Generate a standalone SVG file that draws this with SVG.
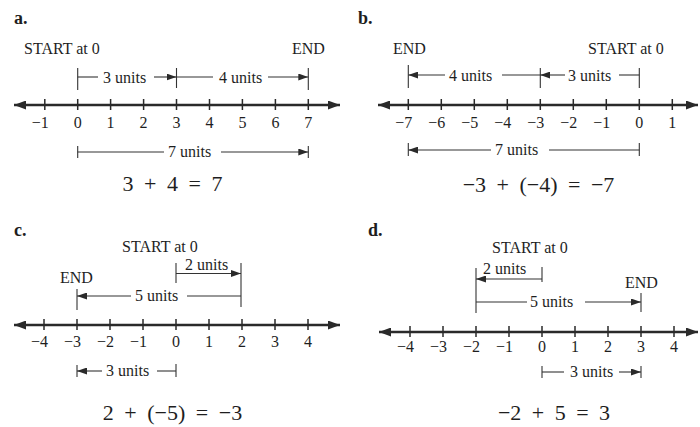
<svg xmlns="http://www.w3.org/2000/svg" width="700" height="427" viewBox="0 0 700 427">
<defs>
<marker id="ua" markerUnits="userSpaceOnUse" markerWidth="10" markerHeight="7" refX="10" refY="3.5" orient="auto"><path d="M0,0 L10,3.5 L0,7 z" fill="#2a2a2a"/></marker>
<marker id="na" markerUnits="userSpaceOnUse" markerWidth="12" markerHeight="9" refX="12" refY="4.5" orient="auto-start-reverse"><path d="M0,0 L12,4.5 L0,9 z" fill="#2a2a2a"/></marker>
</defs>
<style>
text{font-family:"Liberation Serif","Times New Roman",serif;fill:#1e1e1e;font-size:16px}
.lbl{font-weight:bold;font-size:18px}
.eq{font-size:22px;word-spacing:5px;text-anchor:middle}
.num{text-anchor:end}
.nl{stroke:#2a2a2a;stroke-width:2.5;fill:none}
.tk{stroke:#2a2a2a;stroke-width:1.5}
.u{stroke:#333;stroke-width:1.1;fill:none}
.ar{marker-end:url(#ua)}
</style>
<rect width="700" height="427" fill="#fff"/>

<g id="panel-a">
<text class="lbl" x="14" y="24">a.</text>
<text x="24" y="54">START at 0</text>
<text x="292" y="54">END</text>
<line class="nl" x1="14" y1="105" x2="340" y2="105" marker-start="url(#na)" marker-end="url(#na)"/>
<g class="tk">
<line x1="44.8" y1="99" x2="44.8" y2="110"/><line x1="77.7" y1="99" x2="77.7" y2="110"/><line x1="110.6" y1="99" x2="110.6" y2="110"/><line x1="143.6" y1="99" x2="143.6" y2="110"/><line x1="176.5" y1="99" x2="176.5" y2="110"/><line x1="209.5" y1="99" x2="209.5" y2="110"/><line x1="242.4" y1="99" x2="242.4" y2="110"/><line x1="275.4" y1="99" x2="275.4" y2="110"/><line x1="308.3" y1="99" x2="308.3" y2="110"/>
</g>
<g class="num">
<text x="48.8" y="128">−1</text><text x="81.7" y="128">0</text><text x="114.6" y="128">1</text><text x="147.6" y="128">2</text><text x="180.5" y="128">3</text><text x="213.5" y="128">4</text><text x="246.4" y="128">5</text><text x="279.4" y="128">6</text><text x="312.3" y="128">7</text>
</g>
<g id="a-connectors">
<line class="u" x1="77.7" y1="68" x2="77.7" y2="90"/>
<line class="u" x1="176.5" y1="68" x2="176.5" y2="88"/>
<line class="u" x1="308.3" y1="68" x2="308.3" y2="90"/>
<line class="u" x1="77.7" y1="77" x2="98" y2="77"/>
<line class="u ar" x1="154" y1="77" x2="176.5" y2="77"/>
<line class="u" x1="176.5" y1="77" x2="213" y2="77"/>
<line class="u ar" x1="268" y1="77" x2="308.3" y2="77"/>
<line class="u" x1="77.7" y1="146" x2="77.7" y2="158"/>
<line class="u" x1="308.3" y1="146" x2="308.3" y2="158"/>
<line class="u" x1="77.7" y1="152" x2="164" y2="152"/>
<line class="u ar" x1="221" y1="152" x2="308.3" y2="152"/>
</g>
<text x="103" y="83">3 units</text>
<text x="219" y="83">4 units</text>
<text x="168" y="157">7 units</text>
<text class="eq" x="172.5" y="191">3 + 4 = 7</text>
</g>

<g id="panel-b">
<text class="lbl" x="358" y="24">b.</text>
<text x="393" y="54">END</text>
<text x="588" y="54">START at 0</text>
<line class="nl" x1="378" y1="105" x2="698" y2="105" marker-start="url(#na)" marker-end="url(#na)"/>
<g class="tk">
<line x1="408.3" y1="99" x2="408.3" y2="110"/><line x1="441.3" y1="99" x2="441.3" y2="110"/><line x1="474.3" y1="99" x2="474.3" y2="110"/><line x1="507.3" y1="99" x2="507.3" y2="110"/><line x1="540.3" y1="99" x2="540.3" y2="110"/><line x1="573.3" y1="99" x2="573.3" y2="110"/><line x1="606.3" y1="99" x2="606.3" y2="110"/><line x1="639.3" y1="99" x2="639.3" y2="110"/><line x1="672.3" y1="99" x2="672.3" y2="110"/>
</g>
<g class="num">
<text x="412.3" y="127.5">−7</text><text x="445.3" y="127.5">−6</text><text x="478.3" y="127.5">−5</text><text x="511.3" y="127.5">−4</text><text x="544.3" y="127.5">−3</text><text x="577.3" y="127.5">−2</text><text x="610.3" y="127.5">−1</text><text x="643.3" y="127.5">0</text><text x="676.3" y="127.5">1</text>
</g>
<g id="b-connectors">
<line class="u" x1="408.3" y1="65" x2="408.3" y2="88"/>
<line class="u" x1="540.3" y1="68" x2="540.3" y2="88"/>
<line class="u" x1="639.3" y1="68" x2="639.3" y2="88"/>
<line class="u ar" x1="445" y1="75" x2="408.3" y2="75"/>
<line class="u" x1="502" y1="75" x2="540.3" y2="75"/>
<line class="u ar" x1="565" y1="75" x2="540.3" y2="75"/>
<line class="u" x1="619" y1="75" x2="639.3" y2="75"/>
<line class="u" x1="408.3" y1="143" x2="408.3" y2="156"/>
<line class="u" x1="639.3" y1="143" x2="639.3" y2="156"/>
<line class="u ar" x1="491" y1="150" x2="408.3" y2="150"/>
<line class="u" x1="549" y1="150" x2="639.3" y2="150"/>
</g>
<text x="449" y="81">4 units</text>
<text x="568" y="81">3 units</text>
<text x="495" y="155">7 units</text>
<text class="eq" x="538.5" y="192">−3 + (−4) = −7</text>
</g>

<g id="panel-c">
<text class="lbl" x="14" y="236">c.</text>
<text x="122" y="252">START at 0</text>
<text x="60" y="283">END</text>
<line class="nl" x1="14" y1="325" x2="340" y2="325" marker-start="url(#na)" marker-end="url(#na)"/>
<g class="tk">
<line x1="44" y1="319" x2="44" y2="330"/><line x1="77" y1="319" x2="77" y2="330"/><line x1="110" y1="319" x2="110" y2="330"/><line x1="143" y1="319" x2="143" y2="330"/><line x1="176" y1="319" x2="176" y2="330"/><line x1="209" y1="319" x2="209" y2="330"/><line x1="242" y1="319" x2="242" y2="330"/><line x1="275" y1="319" x2="275" y2="330"/><line x1="308" y1="319" x2="308" y2="330"/>
</g>
<g class="num">
<text x="48" y="347">−4</text><text x="81" y="347">−3</text><text x="114" y="347">−2</text><text x="147" y="347">−1</text><text x="180" y="347">0</text><text x="213" y="347">1</text><text x="246" y="347">2</text><text x="279" y="347">3</text><text x="312" y="347">4</text>
</g>
<g id="c-connectors">
<line class="u" x1="176" y1="263" x2="176" y2="283"/>
<line class="u" x1="241" y1="263" x2="241" y2="307"/>
<line class="u ar" x1="176" y1="273.5" x2="241" y2="273.5"/>
<line class="u" x1="77" y1="289" x2="77" y2="310"/>
<line class="u ar" x1="131" y1="296" x2="77" y2="296"/>
<line class="u" x1="187" y1="296" x2="241" y2="296"/>
<line class="u" x1="77" y1="365" x2="77" y2="377"/>
<line class="u" x1="176" y1="364" x2="176" y2="377"/>
<line class="u ar" x1="102" y1="371" x2="77" y2="371"/>
<line class="u" x1="157" y1="371" x2="176" y2="371"/>
</g>
<text x="185" y="270">2 units</text>
<text x="135" y="301">5 units</text>
<text x="106" y="376">3 units</text>
<text class="eq" x="172.5" y="420">2 + (−5) = −3</text>
</g>

<g id="panel-d">
<text class="lbl" x="368" y="236">d.</text>
<text x="492" y="253">START at 0</text>
<text x="625" y="288">END</text>
<line class="nl" x1="379" y1="332" x2="698" y2="332" marker-start="url(#na)" marker-end="url(#na)"/>
<g class="tk">
<line x1="410" y1="326" x2="410" y2="337"/><line x1="443" y1="326" x2="443" y2="337"/><line x1="476" y1="326" x2="476" y2="337"/><line x1="509" y1="326" x2="509" y2="337"/><line x1="542" y1="326" x2="542" y2="337"/><line x1="575" y1="326" x2="575" y2="337"/><line x1="608" y1="326" x2="608" y2="337"/><line x1="641" y1="326" x2="641" y2="337"/><line x1="674" y1="326" x2="674" y2="337"/>
</g>
<g class="num">
<text x="414" y="352">−4</text><text x="447" y="352">−3</text><text x="480" y="352">−2</text><text x="513" y="352">−1</text><text x="546" y="352">0</text><text x="579" y="352">1</text><text x="612" y="352">2</text><text x="645" y="352">3</text><text x="678" y="352">4</text>
</g>
<g id="d-connectors">
<line class="u" x1="542" y1="267" x2="542" y2="282"/>
<line class="u" x1="476" y1="268" x2="476" y2="313"/>
<line class="u ar" x1="542" y1="279" x2="476" y2="279"/>
<line class="u" x1="476" y1="302" x2="527" y2="302"/>
<line class="u ar" x1="585" y1="302" x2="641" y2="302"/>
<line class="u" x1="641" y1="293" x2="641" y2="312"/>
<line class="u" x1="542" y1="366" x2="542" y2="378"/>
<line class="u" x1="542" y1="372" x2="564" y2="372"/>
<line class="u ar" x1="619" y1="372" x2="641" y2="372"/>
<line class="u" x1="641" y1="366" x2="641" y2="378"/>
</g>
<text x="483" y="274">2 units</text>
<text x="530" y="307">5 units</text>
<text x="570" y="377">3 units</text>
<text class="eq" x="554" y="420">−2 + 5 = 3</text>
</g>
</svg>
